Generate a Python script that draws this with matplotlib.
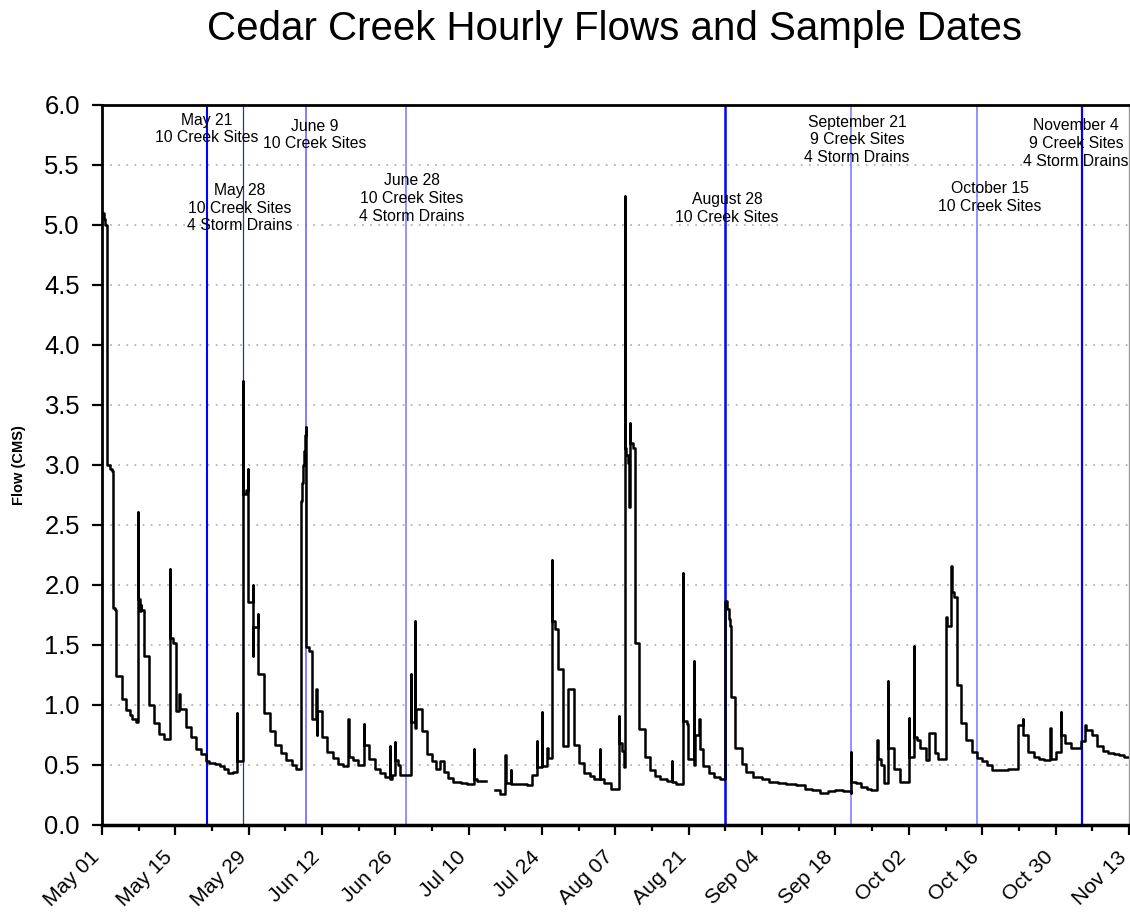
import numpy as np
import pandas as pd
import matplotlib
matplotlib.use('Agg')
import matplotlib.pyplot as plt
import matplotlib.dates as mdates
from matplotlib.transforms import ScaledTranslation

plt.rcParams['font.family'] = ['Liberation Sans', 'DejaVu Sans']

start = pd.Timestamp('2007-05-01')
nan = np.nan

# (days after May 1, flow in cms) - each value holds until the next point
may_pts = [(0.0, 5.10), (0.3, 5.05), (0.6, 5.00), (0.9, 4.96), (1.0, 3.00), (1.5, 2.97), (1.95, 2.95),
           (2.0, 1.81), (2.4, 1.79), (2.75, 1.24), (3.9, 1.05), (4.6, 0.96), (5.3, 0.92), (5.8, 0.88),
           (6.4, 0.86), (6.9, 2.61), (6.95, 1.88), (7.2, 1.78), (7.35, 1.83), (7.5, 1.79), (8.0, 1.41),
           (9.0, 1.00), (9.9, 0.85), (10.9, 0.76), (11.8, 0.72), (12.9, 2.13), (12.95, 1.56), (13.5, 1.52),
           (14.1, 0.95), (14.7, 1.09), (14.85, 0.97), (16.0, 0.82), (16.9, 0.73), (17.9, 0.63), (18.8, 0.59),
           (19.8, 0.53), (20.5, 0.52), (21.5, 0.51), (22.5, 0.49), (23.3, 0.47), (24.1, 0.43), (25.0, 0.44),
           (25.8, 0.93), (25.85, 0.53), (26.9, 3.70), (26.95, 2.76), (27.5, 2.79), (27.9, 2.97),
           (27.95, 1.86), (28.8, 2.00), (28.85, 1.41), (28.9, 1.65), (29.8, 1.76), (29.85, 1.26), (30.9, 0.93)]
jun_pts = [(32.0, 0.78), (33.0, 0.67), (34.1, 0.60), (35.2, 0.54), (36.2, 0.50), (37.1, 0.47),
           (37.9, 2.70), (38.1, 2.85), (38.3, 3.00), (38.5, 3.12), (38.7, 3.25), (38.85, 3.32), (39.0, 1.48),
           (39.5, 1.45), (40.0, 0.88), (40.9, 1.13), (40.95, 0.75), (41.1, 0.95), (41.9, 0.73), (43.0, 0.61),
           (44.0, 0.56), (45.1, 0.51), (46.0, 0.49), (47.0, 0.88), (47.05, 0.57), (47.9, 0.54), (48.9, 0.50),
           (50.0, 0.84), (50.05, 0.67), (51.0, 0.55), (52.1, 0.47), (53.0, 0.43), (54.0, 0.40), (54.9, 0.66),
           (54.95, 0.38), (55.3, 0.42), (55.9, 0.69), (55.95, 0.54), (56.4, 0.50), (56.8, 0.42),
           (58.9, 1.26), (58.95, 0.86), (59.7, 1.70), (59.75, 0.81), (60.0, 0.97)]
jul_pts = [(61.0, 0.78), (62.1, 0.59), (62.9, 0.53), (63.8, 0.47), (64.5, 0.53), (65.2, 0.44), (66.1, 0.39),
           (67.0, 0.36), (68.5, 0.35), (69.6, 0.34), (71.0, 0.63), (71.05, 0.38), (71.5, 0.37), (73.2, nan),
           (75.1, 0.29), (76.0, 0.26), (77.0, 0.58), (77.05, 0.35), (78.0, 0.46), (78.05, 0.34), (81.1, 0.33),
           (82.0, 0.42), (83.0, 0.70), (83.05, 0.48), (84.0, 0.94), (84.05, 0.49), (85.0, 0.64), (85.05, 0.56),
           (85.9, 2.21), (85.95, 1.70), (86.5, 1.63), (87.0, 1.30), (88.0, 0.66), (89.0, 1.13), (90.0, 0.67),
           (91.0, 0.52)]
aug_pts = [(92.0, 0.43), (93.2, 0.41), (94.0, 0.38), (95.0, 0.63), (95.05, 0.38), (95.8, 0.35), (97.2, 0.30),
           (98.7, 0.91), (98.75, 0.68), (99.3, 0.62), (99.6, 0.48), (99.75, 5.24), (99.8, 3.14), (100.0, 3.08),
           (100.3, 3.02), (100.55, 2.95), (100.65, 2.65), (100.7, 3.35), (100.75, 3.18), (101.3, 3.14),
           (101.8, 1.52), (102.5, 0.80), (103.6, 0.57), (104.6, 0.46), (105.5, 0.41), (106.5, 0.38),
           (107.8, 0.37), (108.8, 0.53), (108.85, 0.36), (109.5, 0.34), (110.9, 2.10), (110.95, 0.87),
           (111.7, 0.84), (111.8, 0.55), (112.9, 1.37), (112.95, 0.50), (113.1, 0.75), (114.0, 0.88),
           (114.05, 0.63), (114.8, 0.49), (115.8, 0.43), (116.8, 0.40), (118.0, 0.38), (119.0, 1.87),
           (119.3, 1.80), (119.6, 1.72), (119.85, 1.66), (120.0, 1.07), (120.8, 0.64)]
sep_pts = [(122.1, 0.51), (123.0, 0.44), (124.3, 0.40), (125.9, 0.38), (127.3, 0.36), (129.0, 0.35),
           (130.5, 0.34), (132.5, 0.33), (134.2, 0.30), (135.5, 0.29), (137.0, 0.27), (138.5, 0.28),
           (140.0, 0.29), (141.5, 0.28), (142.9, 0.27), (143.0, 0.61), (143.05, 0.36), (144.0, 0.35),
           (144.9, 0.32), (146.0, 0.30), (146.8, 0.29), (148.0, 0.71), (148.05, 0.55), (148.6, 0.50),
           (149.2, 0.35), (150.0, 1.20), (150.05, 0.64), (151.1, 0.47), (152.4, 0.36)]
oct_pts = [(154.0, 0.89), (154.05, 0.57), (155.0, 1.49), (155.05, 0.73), (155.6, 0.71), (156.2, 0.64),
           (157.3, 0.54), (157.9, 0.77), (158.9, 0.60), (159.6, 0.55), (161.0, 1.73), (161.3, 1.66),
           (162.1, 2.16), (162.15, 1.94), (162.6, 1.90), (163.1, 1.17), (164.0, 0.85), (165.0, 0.71),
           (166.0, 0.61), (167.0, 0.56), (168.0, 0.53), (169.0, 0.50), (169.9, 0.46), (171.5, 0.46),
           (173.0, 0.47), (174.9, 0.83), (175.8, 0.88), (175.85, 0.75), (176.8, 0.61), (177.9, 0.57),
           (178.8, 0.55), (179.8, 0.54), (181.0, 0.81), (181.05, 0.55), (182.0, 0.61)]
nov_pts = [(183.0, 0.94), (183.05, 0.75), (183.9, 0.68), (184.9, 0.64), (186.8, 0.70), (187.6, 0.83),
           (187.9, 0.79), (188.9, 0.75), (190.0, 0.66), (191.1, 0.62), (192.1, 0.60), (193.2, 0.59),
           (194.1, 0.58), (195.0, 0.57), (196.0, 0.57)]

sample_dates = ['2007-05-21', '2007-05-28', '2007-06-09', '2007-06-28',
                '2007-08-28', '2007-09-21', '2007-10-15', '2007-11-04']
sample_text = ['May 21\n10 Creek Sites',
               'May 28\n10 Creek Sites\n4 Storm Drains',
               'June 9\n10 Creek Sites',
               'June 28\n10 Creek Sites\n4 Storm Drains',
               'August 28\n10 Creek Sites',
               'September 21\n9 Creek Sites\n4 Storm Drains',
               'October 15\n10 Creek Sites',
               'November 4\n9 Creek Sites\n4 Storm Drains']

# line look and label placement for each sample date
line_col = ['#0000ff', '#2a2acc', '#6a6aff', '#8080ff', '#0000ff', '#8080ff', '#8080ff', '#0000ff']
line_w = [1.5, 0.9, 1.2, 1.2, 1.8, 1.2, 1.2, 1.6]
lab_day = [20.0, 26.3, 40.6, 59.2, 119.3, 144.1, 169.5, 185.9]
lab_y = [5.80, 5.14, 5.75, 5.22, 5.14, 5.71, 5.23, 5.68]

pts = may_pts + jun_pts + jul_pts + aug_pts + sep_pts + oct_pts + nov_pts
days = np.array([p[0] for p in pts])
flow = np.array([p[1] for p in pts])
x = start + pd.to_timedelta(days, unit='D')

fig = plt.figure(figsize=(11.3, 9.13), dpi=100)
ax = fig.add_axes([0.0903, 0.0964, 0.9087, 0.7886])

for yy in np.arange(0.5, 6.0, 0.5):
    ax.axhline(yy, color='#b4b4b4', lw=1.3, ls=(0, (1, 3.5)), zorder=0)

for d, c, w in zip(sample_dates, line_col, line_w):
    ax.axvline(pd.Timestamp(d), color=c, lw=w, zorder=1)

ax.plot(x, flow, color='black', lw=1.8, drawstyle='steps-post', zorder=3)

for t, d, yy in zip(sample_text, lab_day, lab_y):
    ax.text(start + pd.Timedelta(days=d), yy, t, ha='center', va='center',
            fontsize=11.3, linespacing=1.22, zorder=5)

ax.set_xlim(start, start + pd.Timedelta(days=196))
ax.set_ylim(0, 6)
ax.set_yticks(np.arange(0, 6.01, 0.5))
ax.yaxis.set_major_formatter(plt.FormatStrFormatter('%.1f'))
ax.set_xticks(pd.date_range(start, periods=15, freq='14D'))
ax.set_xticks(pd.date_range(start, periods=29, freq='7D'), minor=True)
ax.xaxis.set_major_formatter(mdates.DateFormatter('%b %d'))

ax.tick_params(axis='y', direction='out', length=7.5, width=1.6, labelsize=18.4, pad=8.5)
ax.tick_params(axis='x', which='major', direction='out', length=7.5, width=1.6, labelsize=15.2, pad=13.5)
ax.tick_params(axis='x', which='minor', direction='out', length=4.5, width=1.6)
shift = ScaledTranslation(-4 / 72, 0, fig.dpi_scale_trans)
for lab in ax.get_xticklabels():
    lab.set_rotation(45)
    lab.set_ha('right')
    lab.set_va('center')
    lab.set_rotation_mode('anchor')
    lab.set_transform(lab.get_transform() + shift)

for s in ['left', 'top']:
    ax.spines[s].set_linewidth(2)
ax.spines['bottom'].set_linewidth(2.5)
ax.spines['right'].set_color('#999999')
ax.spines['right'].set_linewidth(1)

ax.set_ylabel('Flow (CMS)', fontsize=10.5, fontweight='bold')
ax.yaxis.set_label_coords(-0.074, 0.5)
fig.text(0.544, 1 - 29 / 913, 'Cedar Creek Hourly Flows and Sample Dates',
         ha='center', va='center', fontsize=29)

fig.savefig('out.png', dpi=100)
